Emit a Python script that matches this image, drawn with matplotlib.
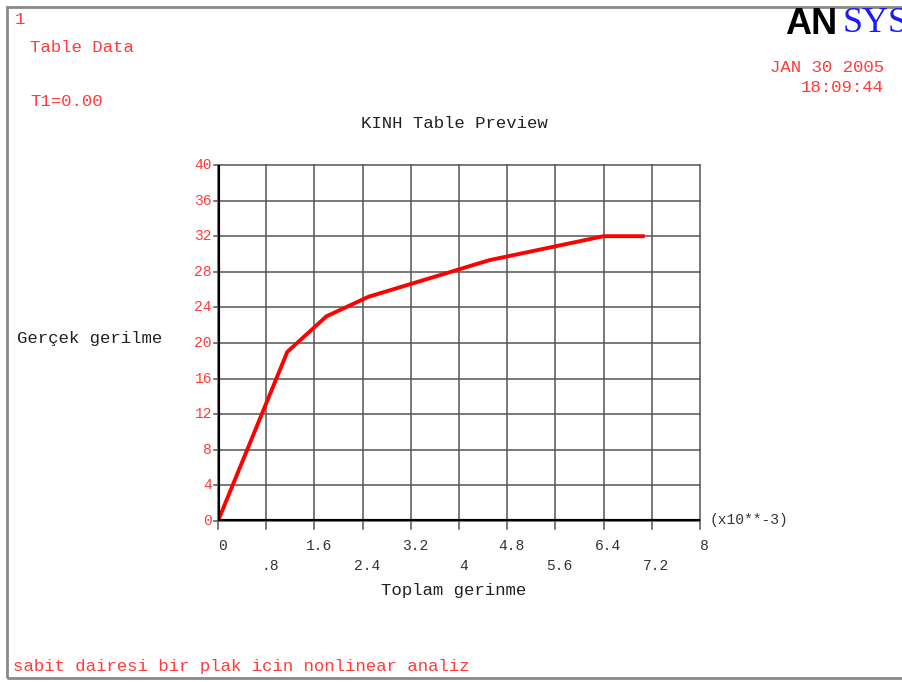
import matplotlib
matplotlib.use("Agg")
import matplotlib.pyplot as plt
from matplotlib.patches import Rectangle

# Data (strain in 1e-3, true stress)
strain = [0.0, 1.15, 1.8, 2.5, 4.5, 6.4, 7.05]
stress = [0.0, 19.0, 23.0, 25.2, 29.3, 32.0, 32.0]

x_ticks = [0, 0.8, 1.6, 2.4, 3.2, 4.0, 4.8, 5.6, 6.4, 7.2, 8.0]
x_tick_labels = ["0", ".8", "1.6", "2.4", "3.2", "4", "4.8", "5.6", "6.4", "7.2", "8"]
y_ticks = [0, 4, 8, 12, 16, 20, 24, 28, 32, 36, 40]
y_tick_labels = [str(v) for v in y_ticks]

MONO = ["Liberation Mono", "DejaVu Sans Mono"]
RED_TXT = "#ff3b3b"

fig = plt.figure(figsize=(9.02, 6.82), dpi=100)
fig.patch.set_facecolor("white")

# outer frame
fig.add_artist(Rectangle((7/902, 4/682), 1.0, 1 - 11/682, transform=fig.transFigure,
                         fill=False, edgecolor="#8a8a8a", linewidth=2))

ax = fig.add_axes([218/902, 1 - 521/682, 482/902, 356/682])
ax.set_xlim(0, 8)
ax.set_ylim(0, 40)
for x in x_ticks:
    ax.plot([x, x], [-0.9, 40], color="#555555", lw=1.1, clip_on=False, zorder=1)
for y in y_ticks:
    ax.plot([-0.06, 8], [y, y], color="#555555", lw=1.1, clip_on=False, zorder=1)
ax.plot(strain, stress, color="#ff0000", lw=2.8, zorder=3, solid_joinstyle="round")
ax.axhline(0, color="black", lw=3, zorder=4)
ax.axvline(0, color="black", lw=3, zorder=4)
for s in ax.spines.values():
    s.set_visible(False)
ax.set_xticks([])
ax.set_yticks([])

for i, (x, lab) in enumerate(zip(x_ticks, x_tick_labels)):
    dy = -2.8 if i % 2 == 0 else -5.05
    ax.text(x + 0.07, dy, lab, ha="center", va="center", fontsize=10.5,
            family=MONO, color="#333333")
for y, lab in zip(y_ticks, y_tick_labels):
    ax.text(-0.1, y, lab, ha="right", va="center", fontsize=10.5,
            family=MONO, color=RED_TXT)

ax.text(8.15, 0.1, "(x10**-3)", ha="left", va="center", fontsize=10.5,
        family=MONO, color="#333333")

def ftext(x, y, s, **kw):
    kw.setdefault("family", MONO)
    kw.setdefault("fontsize", 12.5)
    fig.text(x / 902, 1 - y / 682, s, **kw)

ftext(15, 20, "1", color=RED_TXT, va="center")
ftext(30, 47, "Table Data", color=RED_TXT, va="center")
ftext(30, 101, "T1=0.00", color=RED_TXT, va="center")
ftext(884, 68, "JAN 30 2005", color=RED_TXT, va="center", ha="right")
ftext(884, 88, "18:09:44", color=RED_TXT, va="center", ha="right")
ftext(454, 123, "KINH Table Preview", color="#222222", va="center", ha="center")
ftext(17, 338, "Gerçek gerilme", color="#222222", va="center")
ftext(454, 590, "Toplam gerinme", color="#222222", va="center", ha="center")
ftext(13, 667, "sabit dairesi bir plak icin nonlinear analiz", color=RED_TXT, va="center")

ftext(785, 24, "AN", color="black", va="center", ha="left", family=["Liberation Sans"],
      fontsize=26, fontweight="bold")
ftext(843, 24, "SYS", color="#1a1aff", va="center", ha="left", family=["Liberation Serif"],
      fontsize=26)

fig.savefig("out.png", dpi=100, facecolor="white")
